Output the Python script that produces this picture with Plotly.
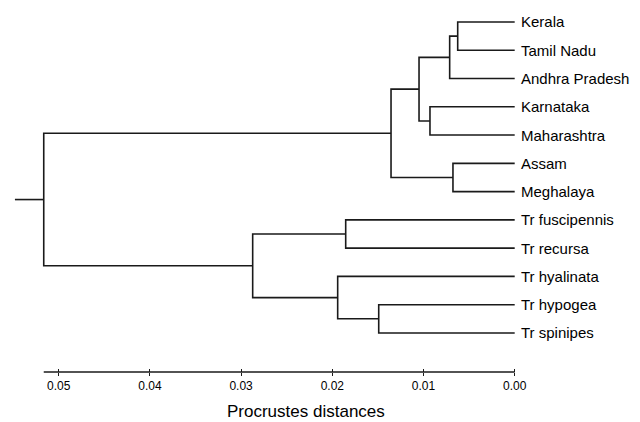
import plotly.graph_objects as go

# ---- data ----
leaves = ["Kerala", "Tamil Nadu", "Andhra Pradesh", "Karnataka", "Maharashtra",
          "Assam", "Meghalaya", "Tr fuscipennis", "Tr recursa", "Tr hyalinata",
          "Tr hypogea", "Tr spinipes"]
# merges: (child_a, child_b, height); new nodes numbered from len(leaves)
merge_a = [0, 12, 3, 13, 5, 15, 7, 10, 9, 18, 17]
merge_b = [1, 2, 4, 14, 6, 16, 8, 11, 19, 20, 21]
merge_h = [0.00625, 0.00713, 0.00929, 0.01049, 0.00677, 0.01356,
           0.01853, 0.01491, 0.01941, 0.02873, 0.05164]
root_stub = 0.0548
tick_vals = [0.05, 0.04, 0.03, 0.02, 0.01, 0.00]
axis_title = "Procrustes distances"

# ---- build dendrogram segments ----
n = len(leaves)
node_x = {i: 0.0 for i in range(n)}
node_y = {i: float(i) for i in range(n)}
xs, ys = [], []
for k, (a, b, h) in enumerate(zip(merge_a, merge_b, merge_h)):
    idx = n + k
    xs += [node_x[a], h, h, node_x[b], None]
    ys += [node_y[a], node_y[a], node_y[b], node_y[b], None]
    node_x[idx] = h
    node_y[idx] = (node_y[a] + node_y[b]) / 2
root = n + len(merge_h) - 1
xs += [node_x[root], root_stub, None]
ys += [node_y[root], node_y[root], None]

LINE = "#1a1a1a"
FONT = "Liberation Sans, Arial, sans-serif"

fig = go.Figure()
fig.add_trace(go.Scatter(x=xs, y=ys, mode="lines",
                         line=dict(color=LINE, width=1.6),
                         hoverinfo="skip", showlegend=False))

annotations = []
for i, name in enumerate(leaves):
    annotations.append(dict(x=0, y=i, xref="x", yref="y", text=name,
                            showarrow=False, xanchor="left", yanchor="middle",
                            xshift=4, font=dict(family=FONT, size=15, color="#000")))
annotations.append(dict(x=0.478, y=-0.105, xref="paper", yref="paper",
                        text=axis_title, showarrow=False, xanchor="center",
                        yanchor="middle", font=dict(family=FONT, size=17, color="#000")))

xr = [0.056436, -0.013739]
fig.update_layout(
    width=640, height=422,
    margin=dict(l=0, r=0, t=0, b=50),
    paper_bgcolor="white", plot_bgcolor="white",
    showlegend=False,
    annotations=annotations,
    xaxis=dict(range=xr, showgrid=False, zeroline=False, showline=False,
               tickvals=tick_vals, tickformat=".2f", ticks="outside",
               ticklen=3, tickwidth=1.3, tickcolor=LINE,
               tickfont=dict(family=FONT, size=12, color="#000")),
    xaxis2=dict(range=xr, overlaying="x", side="bottom", anchor="y",
                showgrid=False, zeroline=False, showline=False,
                tickvals=tick_vals, ticks="inside", ticklen=3, tickwidth=1.3,
                tickcolor=LINE, showticklabels=False),
    yaxis=dict(range=[12.381, -0.778], visible=False, showgrid=False,
               zeroline=False),
    shapes=[dict(type="line", xref="x", yref="paper",
                 x0=node_x[root], x1=0, y0=0, y1=0,
                 line=dict(color=LINE, width=1.6))],
)
fig.add_trace(go.Scatter(x=[None], y=[None], xaxis="x2", showlegend=False,
                         hoverinfo="skip"))

fig.write_html("out.html", config={"displayModeBar": False},
               post_script="document.body.style.margin='0';document.body.style.padding='0';")
